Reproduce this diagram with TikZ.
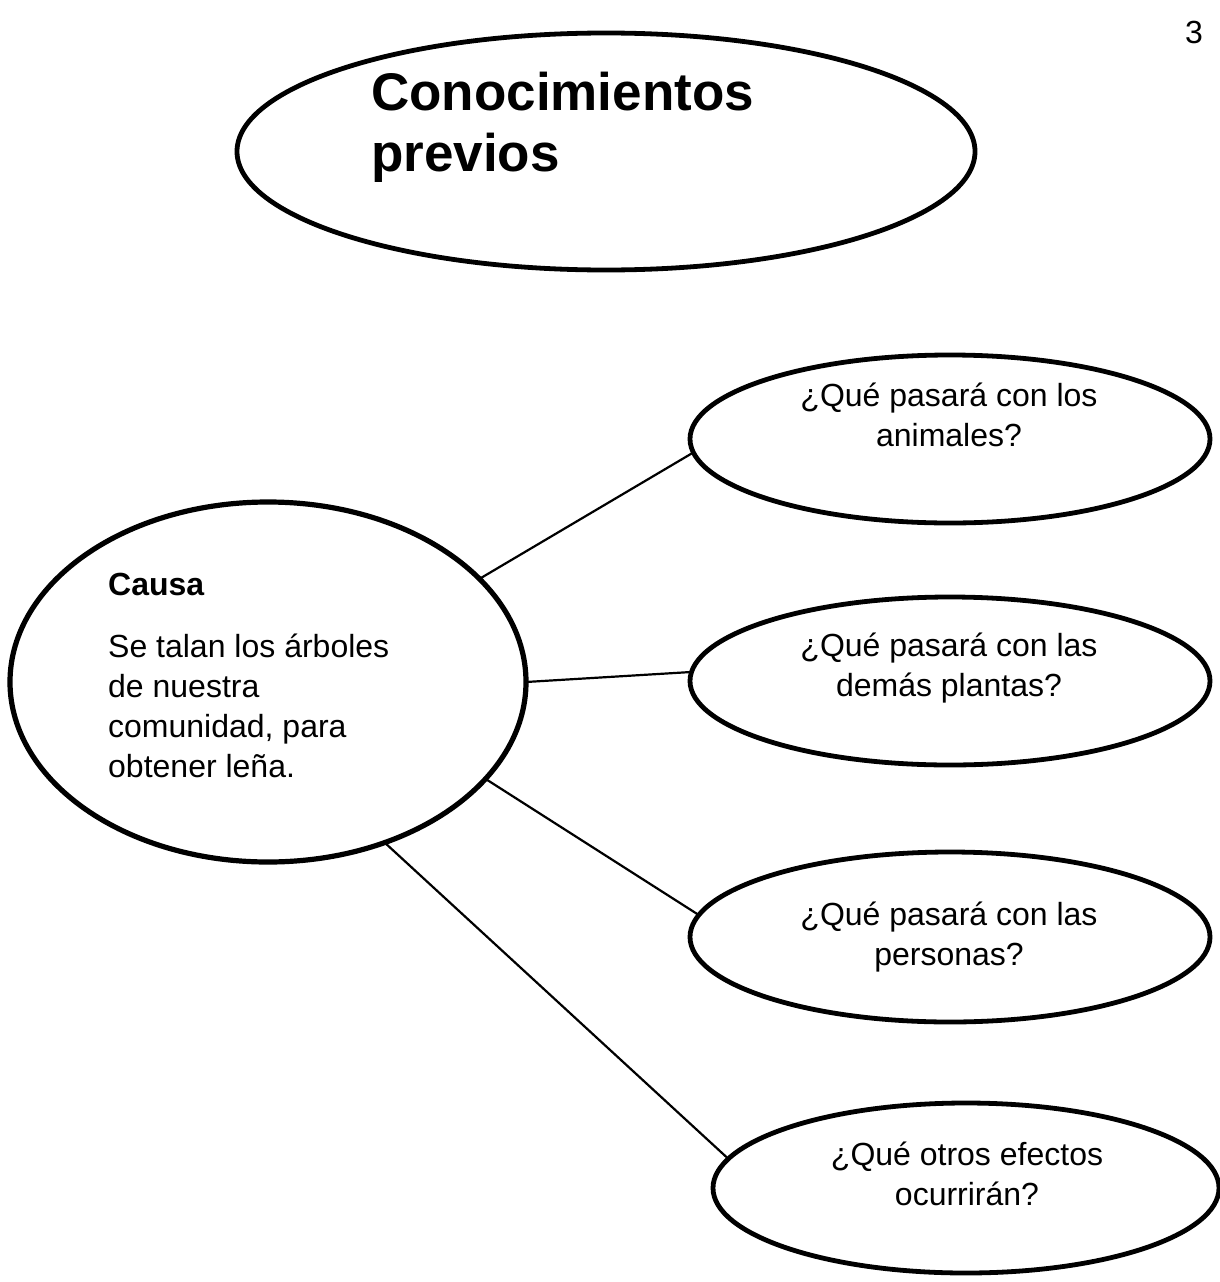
\documentclass[tikz,border=0pt]{standalone}
\usepackage{fontspec}
\setmainfont{Liberation Sans}
\usetikzlibrary{shapes.geometric}
\begin{document}
\begin{tikzpicture}[x=1pt,y=-1pt,
  ell/.style={ellipse,draw=black,line width=4.8pt,inner sep=0pt,outer sep=0pt},
  conn/.style={draw=black,line width=2.2pt},
  txt/.style={inner sep=0pt,font=\fontsize{32}{40}\selectfont},
  bigtxt/.style={inner sep=0pt,font=\fontsize{53}{61}\selectfont\bfseries}]
\useasboundingbox (0,0) rectangle (1219,1282);
\fill[white] (0,0) rectangle (1219,1282);
% page number
\node[txt,anchor=base west] (pnum) at (1185,43) {3};
% title ellipse
\node[ell,minimum width=738pt,minimum height=237pt] (title) at (606,151.5) {};
\node[bigtxt,anchor=base west] (tl1) at (371,110) {Conocimientos};
\node[bigtxt,anchor=base west] (tl2) at (371,171) {previos};
% cause ellipse
\node[ell,line width=5.2pt,minimum width=516pt,minimum height=360pt] (cause) at (268,682) {};
\node[txt,anchor=base west,font=\fontsize{32}{40}\selectfont\bfseries] (c0) at (108,595) {Causa};
\node[txt,anchor=base west] (c1) at (108,657) {Se talan los árboles};
\node[txt,anchor=base west] (c2) at (108,697) {de nuestra};
\node[txt,anchor=base west] (c3) at (108,737) {comunidad, para};
\node[txt,anchor=base west] (c4) at (108,777) {obtener leña.};
% effect ellipses
\node[ell,minimum width=520pt,minimum height=168pt] (e1) at (950,439) {};
\node[txt,anchor=base] (e1a) at (949,406) {¿Qué pasará con los};
\node[txt,anchor=base] (e1b) at (949,446) {animales?};
\node[ell,minimum width=520pt,minimum height=168pt] (e2) at (950,681) {};
\node[txt,anchor=base] (e2a) at (949,656) {¿Qué pasará con las};
\node[txt,anchor=base] (e2b) at (949,696) {demás plantas?};
\node[ell,minimum width=520pt,minimum height=170pt] (e3) at (950,937) {};
\node[txt,anchor=base] (e3a) at (949,925) {¿Qué pasará con las};
\node[txt,anchor=base] (e3b) at (949,965) {personas?};
\node[ell,minimum width=506pt,minimum height=170pt] (e4) at (966,1188) {};
\node[txt,anchor=base] (e4a) at (967,1165) {¿Qué otros efectos};
\node[txt,anchor=base] (e4b) at (967,1205) {ocurrirán?};
% connectors
\draw[conn] (cause.26) -- (e1.183.5);
\draw[conn] (cause.0.8) -- (e2.178);
\draw[conn] (cause.-24.5) -- (e3.175.5);
\draw[conn] (cause.-54) -- (e4.173);
\end{tikzpicture}
\end{document}
